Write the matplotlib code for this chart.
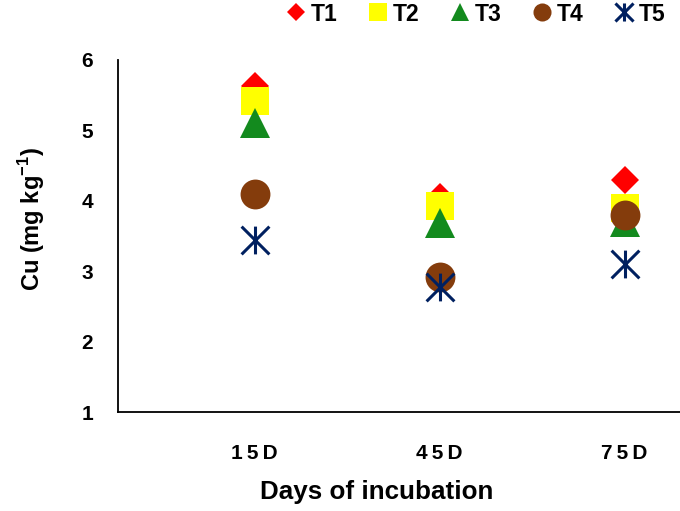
"""Cu content over days of incubation for five treatments."""

import matplotlib

matplotlib.use("Agg")
import matplotlib.pyplot as plt
from matplotlib.path import Path

days = ["1\u20095\u2009D", "4\u20095\u2009D", "7\u20095\u2009D"]
treatments = ["T1", "T2", "T3", "T4", "T5"]
t1 = [5.63, 4.05, 4.30]
t2 = [5.42, 3.92, 3.90]
t3 = [5.10, 3.68, 3.70]
t4 = [4.10, 2.92, 3.80]
t5 = [3.45, 2.78, 3.10]

# Excel-style star: an X plus a vertical bar
star = Path(
    [(-1, -1), (1, 1), (-1, 1), (1, -1), (0, -1), (0, 1)],
    [Path.MOVETO, Path.LINETO, Path.MOVETO, Path.LINETO, Path.MOVETO, Path.LINETO],
)

series = [t1, t2, t3, t4, t5]
colors = ["#FF0000", "#FFFF00", "#138A1E", "#843C0C", "#002060"]
markers = ["D", "s", "^", "o", star]
sizes = [14, 20, 21, 21.5, 20]
legend_sizes = [9.2, 13, 13, 13, 13]

plt.rcParams["font.family"] = ["Liberation Sans", "DejaVu Sans"]
plt.rcParams["font.weight"] = "bold"
plt.rcParams["mathtext.fontset"] = "custom"
plt.rcParams["mathtext.bf"] = "Liberation Sans:bold"
plt.rcParams["mathtext.rm"] = "Liberation Sans:bold"

fig = plt.figure(figsize=(6.8, 5.11), dpi=100)
ax = fig.add_axes([0.1735, 0.1937, 0.8265, 0.6889])

x = list(range(1, len(days) + 1))
handles = []
for name, vals, c, m, s, ls in zip(treatments, series, colors, markers, sizes, legend_sizes):
    is_star = m is star
    ax.plot(x, vals, linestyle="none", marker=m, markersize=s, color=c,
            markeredgecolor=c, markeredgewidth=2.2 if is_star else 0)
    h, = ax.plot([], [], linestyle="none", marker=m, markersize=ls, color=c,
                 markeredgecolor=c, markeredgewidth=2.2 if is_star else 0,
                 label=name)
    handles.append(h)

ax.set_xlim(0.26, 3.30)
ax.set_ylim(1, 6)
ax.set_xticks(x)
ax.set_xticklabels(days)
ax.set_yticks([1, 2, 3, 4, 5, 6])
ax.tick_params(axis="both", length=0, labelsize=15)
ax.tick_params(axis="x", pad=23)
ax.tick_params(axis="y", pad=18)
for lab in ax.get_xticklabels() + ax.get_yticklabels():
    lab.set_fontweight("bold")

for side in ["top", "right"]:
    ax.spines[side].set_visible(False)
for side in ["left", "bottom"]:
    ax.spines[side].set_linewidth(1.3)
    ax.spines[side].set_color("black")

ax.set_xlabel("Days of incubation", fontsize=18.7, fontweight="bold", va="center")
ax.xaxis.set_label_coords(0.461, -0.227)
ax.set_ylabel("Cu (mg kg$^{-1}$)", fontsize=17, fontweight="bold", va="center")
ax.yaxis.set_label_coords(-0.153, 0.548)

fig.legend(handles=handles, loc="center right", bbox_to_anchor=(0.978, 0.9726), ncol=5,
           frameon=False, handlelength=0.8, handletextpad=0.24,
           columnspacing=1.37, borderpad=0, borderaxespad=0,
           prop={"weight": "bold", "size": 16.5})

fig.savefig("out.png", dpi=100)
